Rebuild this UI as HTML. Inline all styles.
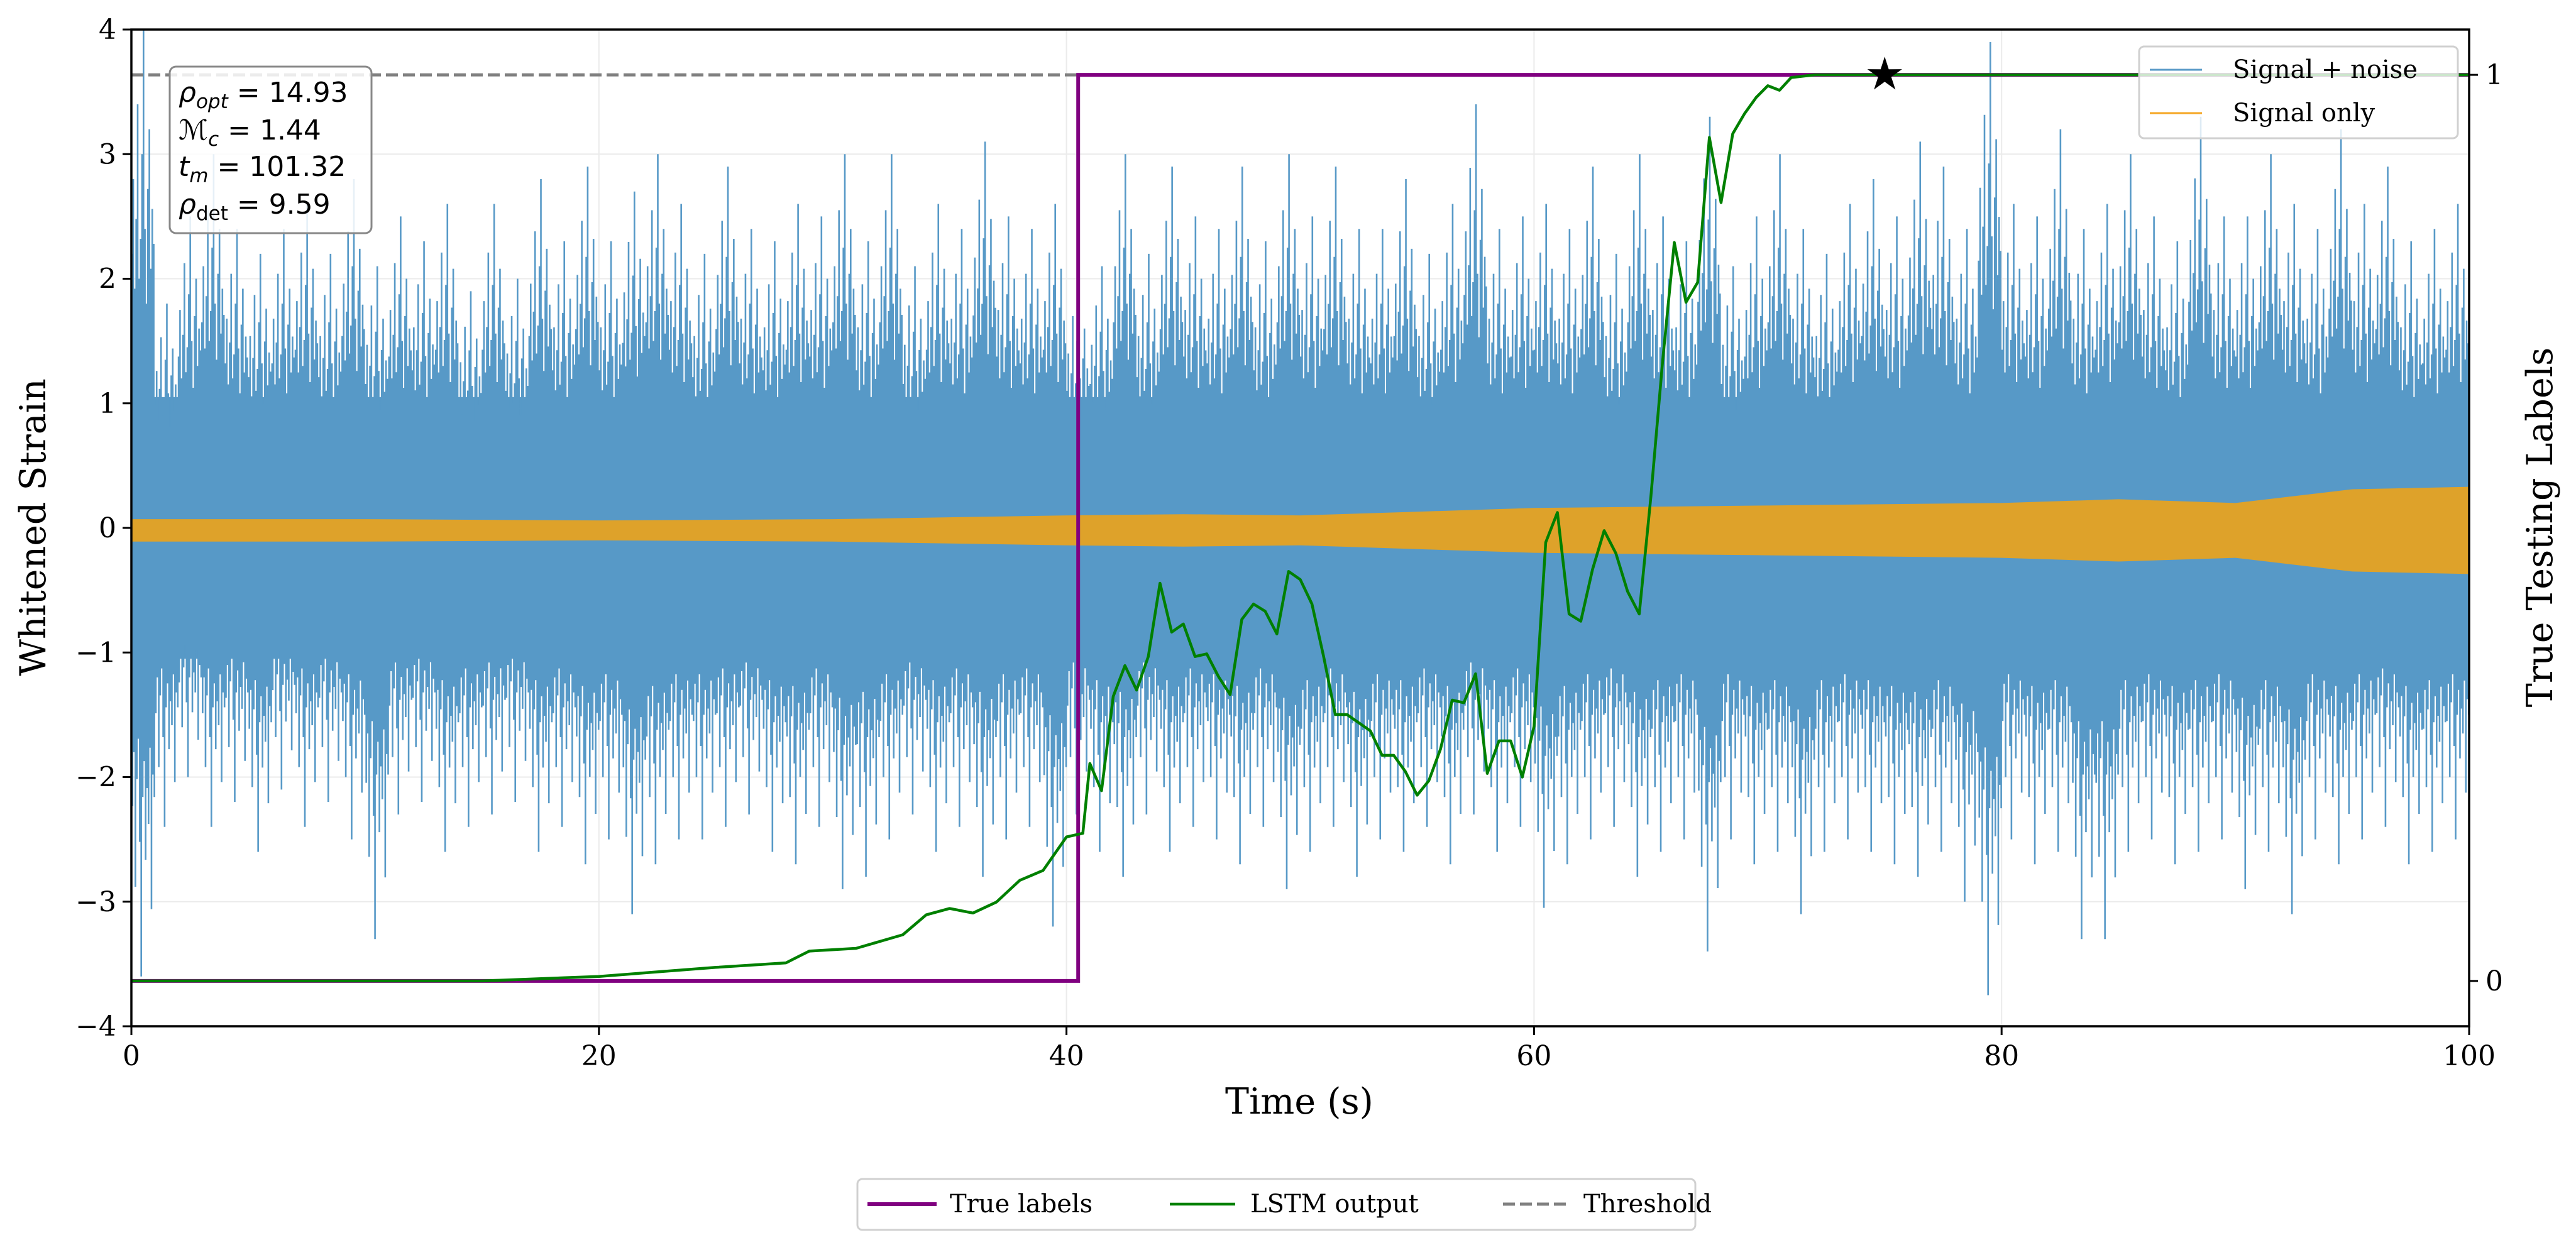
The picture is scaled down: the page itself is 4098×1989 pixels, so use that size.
<!DOCTYPE html>
<html><head><meta charset="utf-8">
<style>
body{margin:0;background:#fff;}
svg{display:block;font-family:"DejaVu Serif","Liberation Serif",serif;}
</style></head>
<body>
<svg id="chart" width="4098" height="1989" viewBox="0 0 4098 1989" xmlns="http://www.w3.org/2000/svg">
<rect width="4098" height="1989" fill="#fff"/>
<g id="grid"></g>
<g id="noise"></g>
<g id="signal"></g>
<g id="over"></g>
<g id="axes"></g>
</svg>
<script>
// ---- data ----
const xTicks = [0,20,40,60,80,100];
const yTicks = [-4,-3,-2,-1,0,1,2,3,4];
const rTicks = [0,1];
const noiseUpper = [4,1.8,2.5,3.0,2.4,2.2,2.4,2.6,2.2,2.8,2.1,2.5,2.3,2.6,1.9,2.6,2.0,2.8,2.3,2.9,2.3,2.7,3.0,2.6,2.2,2.9,2.4,2.3,2.6,2.5,3.0,2.3,3.0,2.1,2.6,2.4,3.1,2.5,2.4,2.6,2.0,2.1,3.0,2.2,2.9,2.5,2.4,2.9,2.3,3.0,2.5,2.9,2.4,2.4,2.8,2.2,2.6,3.4,2.4,2.5,2.6,2.4,2.9,2.2,3.0,2.5,2.3,3.3,2.1,2.5,3.0,2.4,2.2,2.6,2.8,2.5,3.1,2.9,2.4,3.9,2.6,2.5,3.2,2.4,2.6,3.0,2.5,2.3,3.3,2.5,2.5,3.0,2.6,2.4,3.2,2.6,2.9,2.3,2.4,2.6];
const noiseLower = [-3.6,-2.4,-2.0,-2.4,-2.2,-2.6,-2.1,-2.4,-2.2,-2.5,-3.3,-2.3,-2.2,-2.6,-2.4,-2.3,-2.2,-2.6,-2.4,-2.7,-2.5,-3.1,-2.7,-2.5,-2.5,-2.4,-2.3,-2.6,-2.7,-2.4,-2.9,-2.8,-2.5,-2.3,-2.6,-2.4,-2.8,-2.5,-2.4,-3.2,-2.3,-2.6,-2.8,-2.3,-2.6,-2.4,-2.5,-2.7,-2.4,-2.9,-2.6,-2.4,-2.8,-2.5,-2.6,-2.4,-2.7,-2.3,-2.6,-2.4,-3.05,-2.7,-2.5,-2.4,-2.8,-2.6,-2.5,-3.4,-2.5,-2.7,-2.6,-3.1,-2.6,-2.5,-2.6,-2.7,-2.8,-2.6,-3.0,-3.75,-2.5,-2.7,-2.6,-3.3,-3.3,-2.6,-2.5,-2.7,-2.6,-2.5,-2.9,-2.6,-3.1,-2.5,-2.7,-2.5,-2.4,-2.7,-2.6,-2.5];
const noiseCore = 1.05;
const sigT = [0,10,20,30,40,45,50,55,60,70,80,85,90,95,100];
const sigAmp = [0.09,0.09,0.08,0.09,0.12,0.13,0.12,0.15,0.18,0.2,0.22,0.25,0.22,0.33,0.35];
const sigCenter = -0.02;
const labelT = [0,40.5,40.5,100];
const labelV = [0,0,1,1];
const lstmT = [0,15,20,25,28,29,31,33,34,35,36,37,38,39,40,40.7,41,41.5,42,42.5,43,43.5,44,44.5,45,45.5,46,46.5,47,47.5,48,48.5,49,49.5,50,50.5,51,51.5,52,53,53.5,54,54.5,55,55.5,56,56.5,57,57.5,58,58.5,59,59.5,60,60.5,61,61.5,62,62.5,63,63.5,64,64.5,65,65.5,66,66.5,67,67.5,68,68.5,69,69.5,70,70.5,71,72,100];
const lstmV = [0,0,0.005,0.015,0.02,0.033,0.036,0.051,0.073,0.08,0.075,0.087,0.111,0.122,0.159,0.163,0.24,0.21,0.314,0.348,0.321,0.358,0.439,0.385,0.394,0.358,0.361,0.336,0.316,0.399,0.416,0.408,0.383,0.452,0.443,0.416,0.358,0.294,0.294,0.276,0.249,0.249,0.231,0.205,0.221,0.256,0.31,0.307,0.339,0.229,0.265,0.265,0.225,0.281,0.484,0.517,0.405,0.397,0.454,0.497,0.472,0.43,0.405,0.535,0.684,0.815,0.749,0.771,0.931,0.859,0.935,0.957,0.975,0.988,0.983,0.997,1,1];
const threshold = 1;
const detectT = 75;
const detectV = 1;

// ---- scales ----
const L=209,R=3928,T=47,B=1633;
const X = t => L + (t-0)/(100-0)*(R-L);
const Y = v => B - (v-(-4))/(8)*(B-T);
const YR = v => B - (v-(-0.05))/(1.1)*(B-T);
const NS="http://www.w3.org/2000/svg";
function mk(tag, attrs, parent){const e=document.createElementNS(NS,tag);for(const k in attrs)e.setAttribute(k,attrs[k]);parent.appendChild(e);return e;}

const grid=document.getElementById('grid');
xTicks.forEach(t=>{const l=mk('line',{x1:X(t),x2:X(t),y1:T,y2:B,stroke:'#ebebeb','stroke-width':2},grid);

});
yTicks.forEach(v=>{const l=mk('line',{x1:L,x2:R,y1:Y(v),y2:Y(v),stroke:'#ebebeb','stroke-width':2},grid);

});

// noise
const noise=document.getElementById('noise');
const core=mk('rect',{x:L,y:Y(noiseCore),width:R-L,height:Y(-noiseCore)-Y(noiseCore),fill:'#5799c7'},noise);


// rendering pattern (visual texture only) scaling each bin's read peak
const upPat=[0.55,0.7,0.48,0.62,0.85,0.5,0.58,0.75,1,0.6,0.45,0.68,0.8,0.52,0.64,0.57];
const loPat=[0.62,0.5,0.8,0.56,0.47,0.7,1,0.6,0.52,0.74,0.58,0.66,0.49,0.85,0.55,0.6];
let sp='';
noiseUpper.forEach((u,i)=>{
  const lw=noiseLower[i];
  const n=upPat.length;
  for(let k=0;k<n;k++){
    const xx=X(i+(k+0.3)/n);
    sp+='M'+xx+','+Y(0.6)+'L'+xx+','+Y(u*upPat[k]);
    const xx2=X(i+(k+0.75)/n);
    sp+='M'+xx2+','+Y(-0.6)+'L'+xx2+','+Y(lw*loPat[k]);
  }
});
const spk=mk('path',{d:sp,stroke:'#5799c7','stroke-width':2.6,fill:'none'},noise);



// signal
const sig=document.getElementById('signal');
let sd='';
sigT.forEach((t,i)=>{sd+=(i?'L':'M')+X(t)+','+Y(sigCenter+sigAmp[i]);});
for(let i=sigT.length-1;i>=0;i--){sd+='L'+X(sigT[i])+','+Y(sigCenter-sigAmp[i]);}
const sp2=mk('path',{d:sd+'Z',fill:'#dea22a'},sig);



// labels, lstm, threshold
const over=document.getElementById('over');
const th=mk('line',{x1:L,x2:R,y1:YR(threshold),y2:YR(threshold),stroke:'#808080','stroke-width':5,'stroke-dasharray':'19,8'},over);


let pd='';labelT.forEach((t,i)=>{pd+=(i?'L':'M')+X(t)+','+YR(labelV[i]);});
const pl=mk('path',{d:pd,stroke:'#800080','stroke-width':6,fill:'none'},over);


let gd='';lstmT.forEach((t,i)=>{gd+=(i?'L':'M')+X(t)+','+YR(lstmV[i]);});
const gl=mk('path',{d:gd,stroke:'#008000','stroke-width':4.5,fill:'none','stroke-linejoin':'round'},over);


const sx=X(detectT),sy=YR(detectV);
let st='';for(let k=0;k<10;k++){const r=k%2?11:29;const a=-Math.PI/2+k*Math.PI/5;st+=(k?'L':'M')+(sx+r*Math.cos(a))+','+(sy+r*Math.sin(a));}
const star=mk('path',{d:st+'Z',fill:'#000'},over);



// axes
const ax=document.getElementById('axes');
const fr=mk('rect',{x:L,y:T,width:R-L,height:B-T,fill:'none',stroke:'#000','stroke-width':3.5},ax);


xTicks.forEach(t=>{
  mk('line',{x1:X(t),x2:X(t),y1:B,y2:B+14,stroke:'#000','stroke-width':3},ax);
  const tx=mk('text',{x:X(t),y:B+62,'text-anchor':'middle','font-size':44},ax);tx.textContent=t;
  
  
});
yTicks.forEach(v=>{
  mk('line',{x1:L-14,x2:L,y1:Y(v),y2:Y(v),stroke:'#000','stroke-width':3},ax);
  const tx=mk('text',{x:L-24,y:Y(v)+15,'text-anchor':'end','font-size':44},ax);tx.textContent=(v<0?'\u2212'+(-v):v);
  
  
});
rTicks.forEach(v=>{
  mk('line',{x1:R,x2:R+14,y1:YR(v),y2:YR(v),stroke:'#000','stroke-width':3},ax);
  const tx=mk('text',{x:R+26,y:YR(v)+15,'font-size':44},ax);tx.textContent=v;
  
  
});
</script>
<svg style="position:absolute;left:0;top:0" width="4098" height="1989">
<text x="2067" y="1772" text-anchor="middle" font-size="57" font-family="DejaVu Serif, Liberation Serif, serif">Time (s)</text>
<text transform="translate(72,839) rotate(-90)" text-anchor="middle" font-size="57" font-family="DejaVu Serif, Liberation Serif, serif">Whitened Strain</text>
<text transform="translate(4060,839) rotate(-90)" text-anchor="middle" font-size="57" font-family="DejaVu Serif, Liberation Serif, serif">True Testing Labels</text>
<g>
<rect x="270" y="106" width="321" height="265" rx="10" fill="#fff" fill-opacity="0.85" stroke="#888" stroke-width="3"/>
<g font-family="DejaVu Sans, Liberation Sans, sans-serif" font-size="44">
<text x="284" y="162"><tspan font-style="italic">ρ</tspan><tspan font-size="31" dy="10" font-style="italic">opt</tspan><tspan dy="-10"> = 14.93</tspan></text>
<text x="284" y="222"><tspan font-style="italic">ℳ</tspan><tspan font-size="31" dy="10" font-style="italic">c</tspan><tspan dy="-10"> = 1.44</tspan></text>
<text x="284" y="280"><tspan font-style="italic">t</tspan><tspan font-size="31" dy="10" font-style="italic">m</tspan><tspan dy="-10"> = 101.32</tspan></text>
<text x="284" y="340"><tspan font-style="italic">ρ</tspan><tspan font-size="31" dy="10">det</tspan><tspan dy="-10"> = 9.59</tspan></text>
</g></g>
<g>
<rect x="3403" y="74" width="507" height="146" rx="8" fill="#fff" fill-opacity="0.8" stroke="#d0d0d0" stroke-width="3"/>
<line x1="3420" x2="3503" y1="111" y2="111" stroke="#5799c7" stroke-width="3"/>
<text x="3552" y="124" font-size="40" font-family="DejaVu Serif, Liberation Serif, serif">Signal + noise</text>
<line x1="3420" x2="3503" y1="180" y2="180" stroke="#f5a623" stroke-width="3"/>
<text x="3552" y="193" font-size="40" font-family="DejaVu Serif, Liberation Serif, serif">Signal only</text>
</g>
<g>
<rect x="1364" y="1876" width="1333" height="81" rx="8" fill="#fff" stroke="#d0d0d0" stroke-width="3"/>
<line x1="1380" x2="1490" y1="1916" y2="1916" stroke="#800080" stroke-width="6"/>
<text x="1511" y="1929" font-size="40" font-family="DejaVu Serif, Liberation Serif, serif">True labels</text>
<line x1="1861" x2="1965" y1="1916" y2="1916" stroke="#008000" stroke-width="4.5"/>
<text x="1989" y="1929" font-size="40" font-family="DejaVu Serif, Liberation Serif, serif">LSTM output</text>
<line x1="2391" x2="2496" y1="1916" y2="1916" stroke="#808080" stroke-width="5" stroke-dasharray="19,8"/>
<text x="2519" y="1929" font-size="40" font-family="DejaVu Serif, Liberation Serif, serif">Threshold</text>
</g>
</svg>
</body></html>
